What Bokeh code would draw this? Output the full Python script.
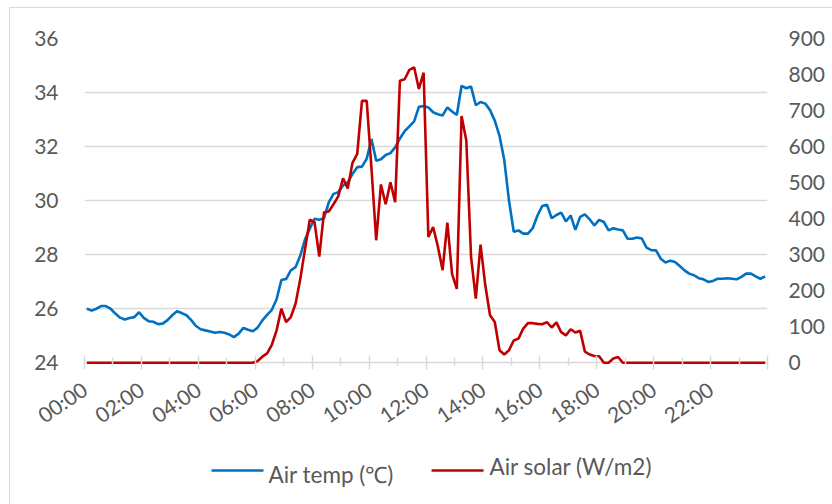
from bokeh.plotting import figure
from bokeh.models import Range1d, LinearAxis, FixedTicker
from bokeh.layouts import column
from bokeh.core.properties import value
from bokeh.embed import file_html
from bokeh.resources import INLINE

# 10-minute samples, 00:00 .. 23:50 (144 categories)
air_temp = [
    26.0, 25.93, 26.0, 26.1, 26.1, 26.0, 25.82, 25.67, 25.6, 25.66,
    25.69, 25.87, 25.66, 25.54, 25.52, 25.43, 25.45, 25.58, 25.76, 25.91,
    25.84, 25.76, 25.58, 25.36, 25.24, 25.2, 25.16, 25.11, 25.14, 25.11,
    25.05, 24.95, 25.08, 25.29, 25.22, 25.17, 25.3, 25.57, 25.77, 25.96,
    26.35, 27.06, 27.1, 27.42, 27.54, 27.97, 28.57, 28.96, 29.33, 29.29,
    29.35, 29.94, 30.25, 30.31, 30.56, 30.68, 30.99, 31.24, 31.26, 31.55,
    32.28, 31.48, 31.53, 31.69, 31.76, 31.97, 32.3, 32.57, 32.75, 32.93,
    33.47, 33.5, 33.45, 33.27, 33.2, 33.15, 33.45, 33.3, 33.17, 34.25,
    34.16, 34.22, 33.53, 33.65, 33.59, 33.35, 32.96, 32.4, 31.5, 30.0,
    28.85, 28.9, 28.78, 28.78, 28.98, 29.45, 29.8, 29.85, 29.35, 29.47,
    29.56, 29.23, 29.45, 28.92, 29.4, 29.49, 29.31, 29.08, 29.29, 29.21,
    28.9, 28.98, 28.93, 28.9, 28.59, 28.59, 28.64, 28.6, 28.26, 28.17,
    28.16, 27.85, 27.71, 27.78, 27.73, 27.58, 27.42, 27.3, 27.24, 27.13,
    27.09, 26.99, 27.03, 27.11, 27.11, 27.13, 27.11, 27.09, 27.18, 27.3,
    27.3, 27.2, 27.11, 27.2,
]

air_solar = [
    0, 0, 0, 0, 0, 0, 0, 0, 0, 0,
    0, 0, 0, 0, 0, 0, 0, 0, 0, 0,
    0, 0, 0, 0, 0, 0, 0, 0, 0, 0,
    0, 0, 0, 0, 0, 0, 5, 17, 26, 50,
    90, 150, 113, 127, 164, 233, 316, 397, 390, 295,
    418, 420, 440, 462, 512, 484, 555, 580, 727, 727,
    540, 340, 495, 440, 501, 446, 783, 787, 813, 820,
    760, 805, 349, 377, 323, 257, 389, 246, 205, 685,
    617, 294, 178, 328, 215, 132, 113, 35, 23, 35,
    62, 67, 95, 110, 110, 108, 107, 113, 98, 112,
    85, 76, 93, 84, 89, 31, 23, 19, 18, 0,
    0, 12, 16, 0, 0, 0, 0, 0, 0, 0,
    0, 0, 0, 0, 0, 0, 0, 0, 0, 0,
    0, 0, 0, 0, 0, 0, 0, 0, 0, 0,
    0, 0, 0, 0,
]

series_names = ["Air temp (℃)", "Air solar (W/m2)"]
series_colors = ["#0070c0", "#c00000"]

tick_hours = list(range(0, 25, 2))
tick_labels = ["00:00", "02:00", "04:00", "06:00", "08:00", "10:00", "12:00",
               "14:00", "16:00", "18:00", "20:00", "22:00", ""]
temp_ticks = [24, 26, 28, 30, 32, 34, 36]
solar_ticks = [0, 100, 200, 300, 400, 500, 600, 700, 800, 900]

# category centres (hours)
x = [(i + 0.5) / 6 for i in range(len(air_temp))]

FONT = "Lato"
GRAY = "#595959"
GRID = "#d9d9d9"
PAD = 0.1  # a little room below 24 so the zero line is not clipped
W = 823
BL, BR = 74, 66

p = figure(width=W, height=433, output_backend="svg", toolbar_location=None,
           x_range=Range1d(0, 24), y_range=Range1d(24 - PAD, 36),
           min_border_left=BL, min_border_right=BR, min_border_top=30,
           min_border_bottom=76)
p.outline_line_color = None
p.background_fill_color = "white"
p.border_fill_color = "white"

p.extra_y_ranges = {"solar": Range1d(-PAD * 75, 900)}

# bottom axis
p.xaxis.ticker = FixedTicker(ticks=tick_hours, minor_ticks=list(range(1, 24, 2)))
p.xaxis.major_label_overrides = {h: l for h, l in zip(tick_hours, tick_labels)}
p.xaxis.major_label_orientation = 0.6
p.xaxis.axis_line_color = None
p.xaxis.major_tick_line_color = GRID
p.xaxis.major_tick_line_width = 1.5
p.xaxis.major_tick_in = 10
p.xaxis.major_tick_out = 4
p.xaxis.minor_tick_line_color = GRID
p.xaxis.minor_tick_line_width = 1.5
p.xaxis.minor_tick_in = 8
p.xaxis.minor_tick_out = 0
p.xaxis.major_label_text_font = FONT
p.xaxis.major_label_text_font_size = "21px"
p.xaxis.major_label_text_color = GRAY
p.xaxis.major_label_standoff = 17

p.yaxis.ticker = FixedTicker(ticks=temp_ticks)
p.yaxis.axis_line_color = None
p.yaxis.major_tick_line_color = None
p.yaxis.minor_tick_line_color = None
p.yaxis.major_label_text_font = FONT
p.yaxis.major_label_text_font_size = "21px"
p.yaxis.major_label_text_color = GRAY
p.yaxis.major_label_standoff = 20

right = LinearAxis(y_range_name="solar", ticker=FixedTicker(ticks=solar_ticks))
right.axis_line_color = None
right.major_tick_line_color = None
right.minor_tick_line_color = None
right.major_label_text_font = FONT
right.major_label_text_font_size = "21px"
right.major_label_text_color = GRAY
right.major_label_standoff = 15
p.add_layout(right, "right")

p.xgrid.grid_line_color = None
p.ygrid.ticker = FixedTicker(ticks=temp_ticks)
p.ygrid.grid_line_color = GRID
p.ygrid.grid_line_width = 1.5

p.line(x, air_temp, line_color=series_colors[0], line_width=2.6)
p.line(x, air_solar, line_color=series_colors[1], line_width=2.6,
       y_range_name="solar")

# legend strip; its frame is aligned with the chart frame by the column,
# so x runs in page pixels over that frame
fx0 = 9 + BL
fx1 = 9 + W - BR
leg = figure(width=W, height=64, output_backend="svg", toolbar_location=None,
             x_range=Range1d(fx0, fx1), y_range=Range1d(0, 64),
             min_border_left=BL, min_border_right=BR,
             min_border_top=0, min_border_bottom=0)
leg.axis.visible = False
leg.grid.visible = False
leg.outline_line_color = None
leg.background_fill_color = "white"
leg.border_fill_color = "white"

sw_x0 = [210, 430]
sw_y = [35, 35]
lab_x = [267, 488]
lab_y = [31, 39]
leg.segment(x0=sw_x0, y0=sw_y, x1=[v + 52 for v in sw_x0], y1=sw_y,
            line_color=series_colors, line_width=2.6)
leg.text(x=lab_x, y=lab_y, text=series_names, text_font=value(FONT),
         text_font_size="22.5px", text_color=GRAY, text_baseline="alphabetic",
         text_align="left")

root = column(p, leg, margin=(7, 0, 0, 9),
              styles={"border-left": "1px solid #d9d9d9",
                      "border-top": "1px solid #d9d9d9"})

open("out.html", "w").write(file_html(root, INLINE))
